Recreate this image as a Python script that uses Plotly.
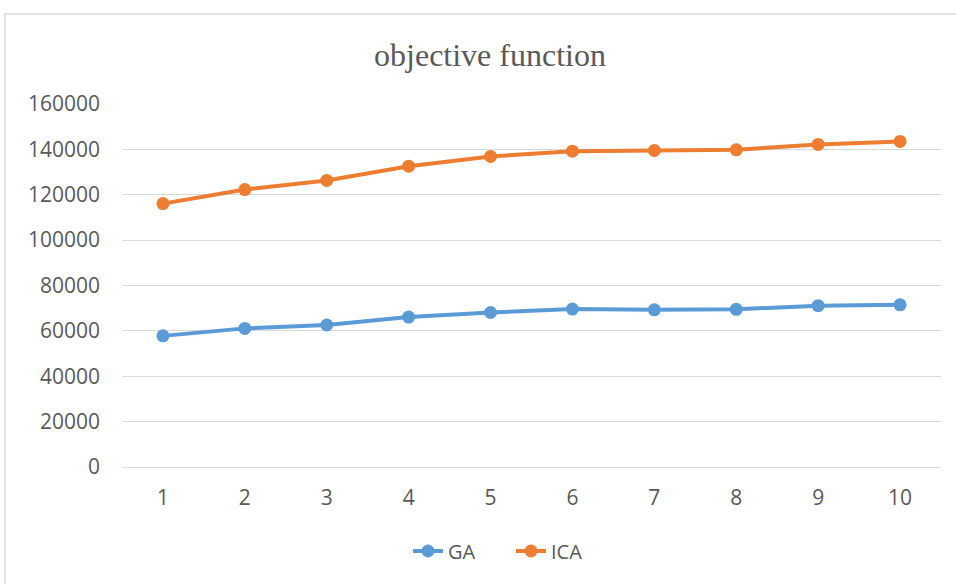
import plotly.graph_objects as go

categories = ["1", "2", "3", "4", "5", "6", "7", "8", "9", "10"]
ga_values = [57800, 61100, 62600, 66100, 68100, 69600, 69300, 69500, 71100, 71500]
ica_values = [116100, 122300, 126300, 132600, 136900, 139200, 139500, 139800, 142200, 143500]
y_ticks = [0, 20000, 40000, 60000, 80000, 100000, 120000, 140000, 160000]

W, H = 956, 584
L, R, T, B = 122, 15, 104, 117
pw, ph = W - L - R, H - T - B

fig = go.Figure()
fig.add_trace(go.Scatter(x=categories, y=ga_values, name="GA", mode="lines+markers",
                         line=dict(color="#5b9bd5", width=4),
                         marker=dict(color="#5b9bd5", size=13)))
fig.add_trace(go.Scatter(x=categories, y=ica_values, name="ICA", mode="lines+markers",
                         line=dict(color="#ed7d31", width=4),
                         marker=dict(color="#ed7d31", size=13)))

fig.update_layout(
    width=W, height=H,
    margin=dict(l=L, r=R, t=T, b=B),
    paper_bgcolor="white", plot_bgcolor="white",
    title=dict(text="objective function", x=490 / W, xanchor="center",
               y=1 - 55 / H, yanchor="middle", yref="container",
               font=dict(family="Liberation Serif", size=32, color="#595959")),
    font=dict(family="Open Sans", size=21, color="#595959"),
    xaxis=dict(type="category", showgrid=False, showline=True, linecolor="#d9d9d9",
               linewidth=1, ticks="", ticklabelstandoff=12,
               tickfont=dict(family="Open Sans", size=21, color="#595959"),
               range=[-0.5, 9.5]),
    yaxis=dict(range=[0, 160000], tickvals=y_ticks, tickformat="d", showgrid=True,
               gridcolor="#d9d9d9", gridwidth=1, zeroline=False, showline=False,
               ticks="", ticklabelstandoff=21,
               tickfont=dict(family="Open Sans", size=21, color="#595959")),
    showlegend=True,
    legend=dict(orientation="h", x=(408 - L) / pw, xanchor="left",
                y=(467 - 551) / ph, yanchor="middle",
                entrywidth=58, entrywidthmode="pixels",
                font=dict(family="Open Sans", size=20, color="#595959")),
    shapes=[dict(type="rect", xref="paper", yref="paper",
                 x0=(5 - L) / pw, x1=1.2, y0=-0.6, y1=(467 - 14) / ph,
                 line=dict(color="#d9d9d9", width=1.5), fillcolor="rgba(0,0,0,0)",
                 layer="below")],
)
fig.write_html("out.html", config={"displayModeBar": False},
               post_script="document.body.style.margin='0';")
